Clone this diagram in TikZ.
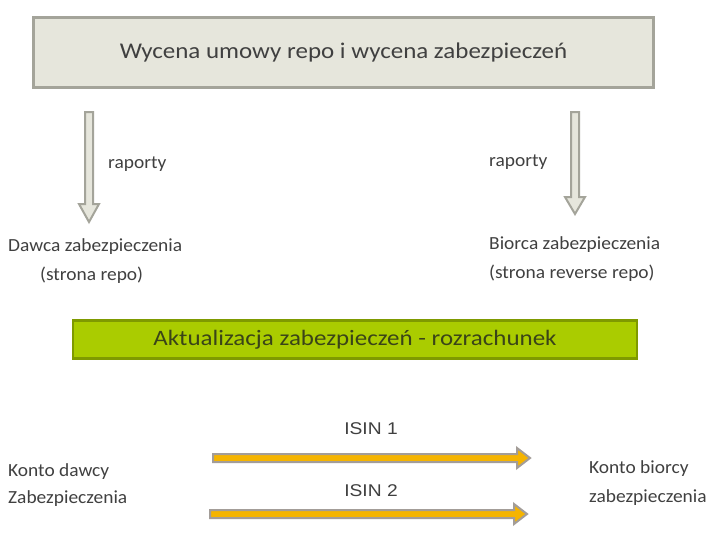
\documentclass[tikz,border=0pt]{standalone}
\usepackage{fontspec}
\setmainfont{Carlito}[FakeStretch=1.05]
\newfontfamily\titlefont{Carlito}[FakeStretch=1.11]
\newfontfamily\greenfont{Carlito}[FakeStretch=1.135]
\newfontfamily\arialfont{Liberation Sans}[FakeStretch=1.13]
\definecolor{boxfill}{HTML}{E6E6DC}
\definecolor{boxline}{HTML}{A4A49A}
\definecolor{greenfill}{HTML}{AACC00}
\definecolor{greenline}{HTML}{7F9A00}
\definecolor{greentxt}{HTML}{3A4418}
\definecolor{orangefill}{HTML}{F5B400}
\definecolor{orangeline}{HTML}{A39D98}
\definecolor{txt}{HTML}{404040}
\tikzset{
  titlebox/.style={draw=boxline, line width=3pt, fill=boxfill, minimum width=620pt, minimum height=70pt, text=txt, font=\titlefont\fontsize{22.5}{26}\selectfont},
  greenbox/.style={draw=greenline, line width=2.5pt, fill=greenfill, minimum width=564pt, minimum height=38pt, text=greentxt, font=\greenfont\fontsize{22}{26}\selectfont},
  lbl/.style={text=txt, font=\fontsize{18.5}{22}\selectfont, inner sep=0pt},
  isin/.style={text=txt, font=\arialfont\fontsize{17}{20}\selectfont, inner sep=0pt},
  grayarrow/.style={draw=boxline, line width=2pt, fill=boxfill, line join=miter},
  orangearrow/.style={draw=orangeline, line width=2pt, fill=orangefill, line join=miter}
}
\begin{document}
\begin{tikzpicture}[x=1pt,y=-1pt]
\useasboundingbox (0,0) rectangle (719,547);
\fill[white] (0,0) rectangle (719,547);
\node[titlebox] (title) at (343.5,52) {Wycena umowy repo i wycena zabezpieczeń};
\node[greenbox] (green) at (355,339.5) {Aktualizacja zabezpieczeń - rozrachunek};
% vertical arrows
\draw[grayarrow] (85,112) -- (93,112) -- (93,204) -- (99,204) -- (89,222) -- (79,204) -- (85,204) -- cycle;
\draw[grayarrow] (571,112) -- (579,112) -- (579,197) -- (585,197) -- (575,214) -- (565,197) -- (571,197) -- cycle;
\node[lbl, anchor=west] (rap1) at (108,164) {raporty};
\node[lbl, anchor=west] (rap2) at (489,162) {raporty};
\node[lbl, anchor=west] (dawca) at (8,247) {Dawca zabezpieczenia};
\node[lbl, anchor=west] (dawca2) at (40,275) {(strona repo)};
\node[lbl, anchor=west] (biorca) at (489,245) {Biorca zabezpieczenia};
\node[lbl, anchor=west] (biorca2) at (489,273) {(strona reverse repo)};
% ISIN arrows
\draw[orangearrow] (213,454) -- (517,454) -- (517,448) -- (530,458) -- (517,468) -- (517,462) -- (213,462) -- cycle;
\draw[orangearrow] (210,510) -- (514,510) -- (514,504) -- (527,514) -- (514,524) -- (514,518) -- (210,518) -- cycle;
\node[isin] (isin1) at (371,429) {ISIN 1};
\node[isin] (isin2) at (371,491) {ISIN 2};
\node[lbl, anchor=west] (kd1) at (8,472) {Konto dawcy};
\node[lbl, anchor=west] (kd2) at (8,499) {Zabezpieczenia};
\node[lbl, anchor=west] (kb1) at (589,469) {Konto biorcy};
\node[lbl, anchor=west] (kb2) at (589,498) {zabezpieczenia};
\end{tikzpicture}
\end{document}
